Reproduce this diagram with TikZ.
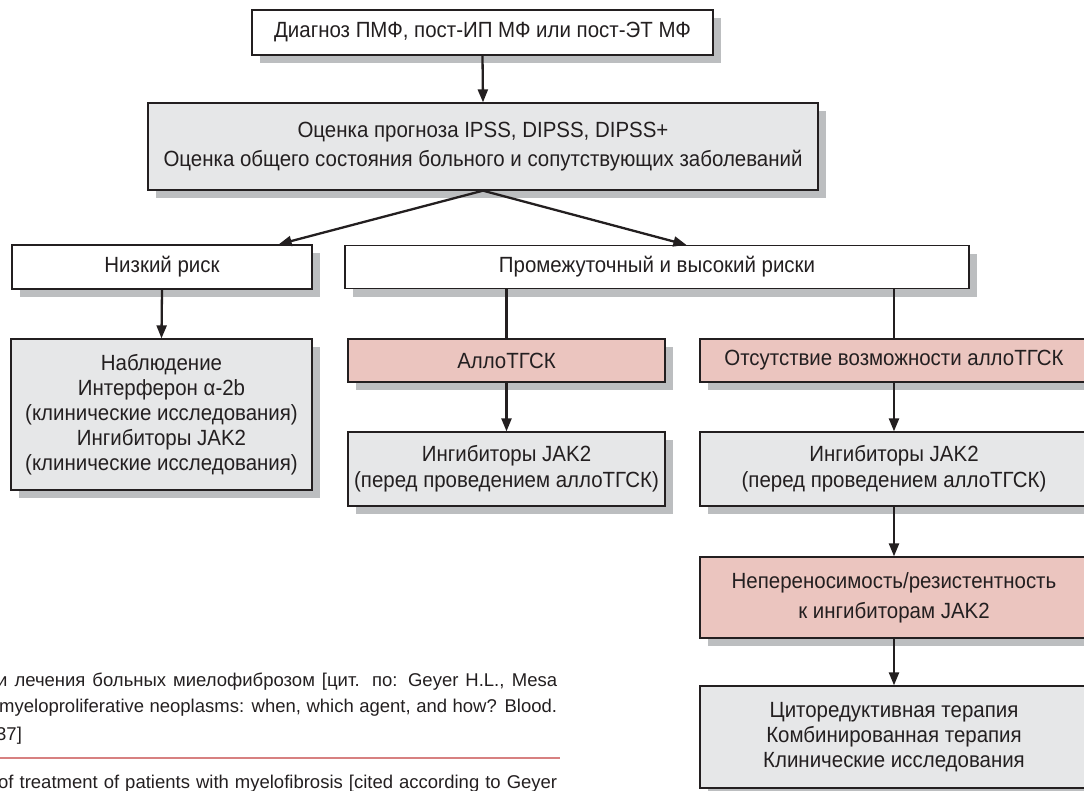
\documentclass[tikz,border=0pt]{standalone}
\usepackage{fontspec}
\setmainfont{Liberation Sans}
\newfontfamily\condfont{Liberation Sans}[FakeStretch=0.93]
\newfontfamily\capfont{Liberation Sans}
\usetikzlibrary{arrows.meta,shadows,calc}
\definecolor{boxgray}{RGB}{230,231,232}
\definecolor{boxpink}{RGB}{235,197,191}
\definecolor{shadowgray}{RGB}{188,190,192}
\definecolor{edge}{RGB}{35,31,32}
\definecolor{rulepink}{RGB}{215,128,128}
\begin{document}
\begin{tikzpicture}[x=1pt,y=-1pt,
  box/.style={draw=edge, line width=1.3pt, inner sep=0pt, align=center,
    font=\condfont\fontsize{22}{25}\selectfont, text=edge,
    general shadow={fill=shadowgray, shadow xshift=8pt, shadow yshift=-8pt}},
  whitebox/.style={box, fill=white},
  graybox/.style={box, fill=boxgray},
  pinkbox/.style={box, fill=boxpink},
  arr/.style={draw=edge, line width=2.3pt, -{Triangle[length=13pt,width=10pt]}},
  plain/.style={draw=edge, line width=2.3pt},
  captext/.style={inner sep=0pt, font=\capfont\fontsize{18.5}{24}\selectfont, text=edge}]
\useasboundingbox (0,0) rectangle (1084,790);
\clip (0,0) rectangle (1084,790);

\node[whitebox, minimum width=461pt, minimum height=45pt] (top) at (482.5,32.5)
  {Диагноз ПМФ, пост-ИП МФ или пост-ЭТ МФ};
\node[graybox, minimum width=670pt, minimum height=87pt] (assess) at (483,146.5)
  {Оценка прогноза IPSS, DIPSS, DIPSS+\\[4pt]Оценка общего состояния больного и сопутствующих заболеваний};
\node[whitebox, minimum width=300pt, minimum height=44pt] (low) at (162,267)
  {Низкий риск};
\node[whitebox, minimum width=624pt, minimum height=43pt] (med) at (657,267)
  {Промежуточный и высокий риски};
\node[graybox, minimum width=301pt, minimum height=151pt] (obs) at (161.5,414.5)
  {Наблюдение\\Интерферон α-2b\\(клинические исследования)\\Ингибиторы JAK2\\(клинические исследования)};
\node[pinkbox, minimum width=317pt, minimum height=43pt] (allo) at (506.5,360.5)
  {АллоТГСК};
\node[graybox, minimum width=317pt, minimum height=74pt] (jakc) at (506.5,469)
  {Ингибиторы JAK2\\[1pt](перед проведением аллоТГСК)};
\node[pinkbox, minimum width=388pt, minimum height=43pt] (noallo) at (894,360.5)
  {Отсутствие возможности аллоТГСК};
\node[graybox, minimum width=388pt, minimum height=74pt] (jakr) at (894,469)
  {Ингибиторы JAK2\\[1pt](перед проведением аллоТГСК)};
\node[pinkbox, minimum width=388pt, minimum height=81pt] (intol) at (894,597.5)
  {Непереносимость/резистентность\\[5pt]к ингибиторам JAK2};
\node[graybox, minimum width=388pt, minimum height=102pt] (cyto) at (894,737)
  {Циторедуктивная терапия\\Комбинированная терапия\\Клинические исследования};

\draw[arr] (top.south) -- (assess.north);
\draw[arr] (assess.south) -- ($(low.north east)+(-34,0)$);
\draw[arr] (assess.south) -- ($(med.north west)+(342,0)$);
\draw[arr] (low.south) -- (obs.north);
\draw[plain] (allo.north |- med.south) -- (allo.north);
\draw[plain] (noallo.north |- med.south) -- (noallo.north);
\draw[arr] (allo.south) -- (jakc.north);
\draw[arr] (noallo.south) -- (jakr.north);
\draw[arr] (jakr.south) -- (intol.north);
\draw[arr] (intol.south) -- (cyto.north);

\node[captext, anchor=base west] (c1) at (-3,686)
  {\makebox[560pt][s]{и лечения больных миелофиброзом [цит. по: Geyer H.L., Mesa}};
\node[captext, anchor=base west] (c2) at (-1,712)
  {\makebox[558pt][s]{myeloproliferative neoplasms: when, which agent, and how? Blood.}};
\node[captext, anchor=base west] (c3) at (-4,740) {37]};
\coordinate (r1) at (0,758);
\coordinate (r2) at (560,758);
\draw[rulepink, line width=1.5pt] (r1) -- (r2);
\node[captext, anchor=base west] (c4) at (-2,788)
  {\makebox[559pt][s]{of treatment of patients with myelofibrosis [cited according to Geyer}};
\end{tikzpicture}
\end{document}
